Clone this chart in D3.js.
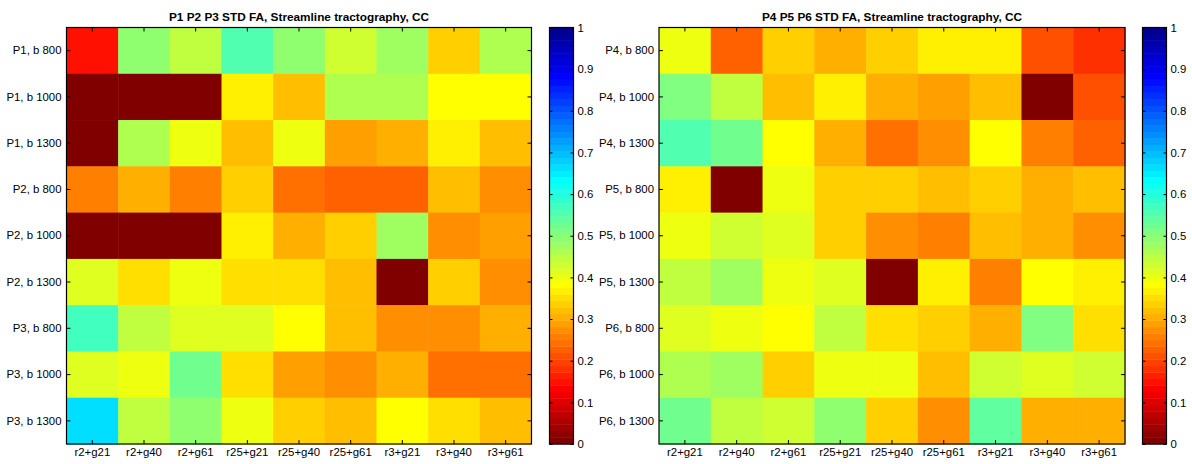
<!DOCTYPE html>
<html><head><meta charset="utf-8">
<script src="https://cdn.jsdelivr.net/npm/d3@7"></script>
<style>
body{margin:0;background:#fff;}
svg text{font-family:"Liberation Sans",Arial,Helvetica,sans-serif;}
</style></head><body>
<svg id="c" width="1192" height="464"></svg>
<script>
const xLabels = ["r2+g21","r2+g40","r2+g61","r25+g21","r25+g40","r25+g61","r3+g21","r3+g40","r3+g61"];
const leftRows = ["P1, b 800","P1, b 1000","P1, b 1300","P2, b 800","P2, b 1000","P2, b 1300","P3, b 800","P3, b 1000","P3, b 1300"];
const rightRows = ["P4, b 800","P4, b 1000","P4, b 1300","P5, b 800","P5, b 1000","P5, b 1300","P6, b 800","P6, b 1000","P6, b 1300"];
const leftValues = [
  [0.145,0.49,0.44,0.55,0.49,0.43,0.48,0.335,0.46],
  [0,0,0,0.367,0.318,0.455,0.455,0.38,0.38],
  [0,0.46,0.395,0.325,0.40,0.29,0.305,0.365,0.325],
  [0.26,0.30,0.255,0.335,0.245,0.22,0.22,0.325,0.27],
  [0,0,0,0.36,0.31,0.335,0.48,0.27,0.285],
  [0.42,0.35,0.395,0.355,0.355,0.325,0,0.34,0.27],
  [0.575,0.44,0.415,0.415,0.38,0.32,0.27,0.27,0.30],
  [0.41,0.395,0.525,0.345,0.285,0.275,0.305,0.235,0.245],
  [0.66,0.44,0.49,0.395,0.335,0.32,0.38,0.35,0.32]
];
const rightValues = [
  [0.395,0.22,0.34,0.31,0.33,0.367,0.367,0.215,0.185],
  [0.51,0.44,0.325,0.36,0.31,0.29,0.325,0,0.205],
  [0.55,0.525,0.38,0.305,0.24,0.27,0.38,0.255,0.23],
  [0.36,0,0.395,0.34,0.34,0.325,0.34,0.31,0.325],
  [0.395,0.43,0.41,0.335,0.28,0.26,0.325,0.30,0.28],
  [0.44,0.48,0.395,0.41,0,0.36,0.26,0.38,0.36],
  [0.41,0.395,0.38,0.44,0.35,0.335,0.305,0.51,0.35],
  [0.465,0.48,0.33,0.395,0.395,0.315,0.43,0.41,0.425],
  [0.53,0.44,0.425,0.485,0.335,0.27,0.535,0.30,0.31]
];
const titles = ["P1 P2 P3 STD FA, Streamline tractography, CC","P4 P5 P6 STD FA, Streamline tractography, CC"];
const cbTicks = [0,0.1,0.2,0.3,0.4,0.5,0.6,0.7,0.8,0.9,1];

// MATLAB jet(64), flipped
function jet(m){
  const n = Math.ceil(m/4);
  const u = [];
  for(let i=1;i<=n;i++) u.push(i/n);
  for(let i=0;i<n-1;i++) u.push(1);
  for(let i=n;i>=1;i--) u.push(i/n);
  const off = Math.ceil(n/2) - (m%4===1?1:0);
  const J = Array.from({length:m},()=>[0,0,0]);
  u.forEach((val,k)=>{
    const g = off + k + 1, r = g + n, b = g - n;
    if(g>=1&&g<=m) J[g-1][1]=val;
    if(r>=1&&r<=m) J[r-1][0]=val;
    if(b>=1&&b<=m) J[b-1][2]=val;
  });
  return J.map(c=>d3.rgb(c[0]*255,c[1]*255,c[2]*255).toString());
}
const cmap = jet(64).reverse();
const color = v => cmap[Math.max(0,Math.min(63,Math.floor(v*64)))];

const svg = d3.select("#c");
const FS = 11.4;
const panels = [
  {x0:66.5,x1:531.5,cb0:549.5,rows:leftRows,vals:leftValues,title:titles[0]},
  {x0:659,x1:1125,cb0:1142.5,rows:rightRows,vals:rightValues,title:titles[1]}
];
const y0 = 27.5, y1 = 444;

panels.forEach(p=>{
  const g = svg.append("g");
  const x = d3.scaleBand().domain(xLabels).range([p.x0,p.x1]).padding(0);
  const y = d3.scaleBand().domain(p.rows).range([y0,y1]).padding(0);
  const cells = [];
  p.vals.forEach((row,i)=>row.forEach((v,j)=>cells.push({r:p.rows[i],c:xLabels[j],v})));
  g.selectAll("rect.cell").data(cells).enter().append("rect")
    .attr("x",d=>x(d.c)).attr("y",d=>y(d.r))
    .attr("width",x.bandwidth()+0.5).attr("height",y.bandwidth()+0.5)
    .attr("fill",d=>color(d.v));
  const style = sel=>{
    sel.select(".domain").remove();
    sel.selectAll(".tick line").attr("stroke","#000");
    sel.selectAll(".tick text").attr("fill","#000").style("font-size",FS+"px");
  };
  g.append("g").attr("transform",`translate(0,${y1})`)
    .call(d3.axisBottom(x).tickSize(-4).tickPadding(4)).call(style);
  g.append("g").attr("transform",`translate(0,${y0})`)
    .call(d3.axisTop(x).tickSize(-4).tickFormat("")).call(style);
  g.append("g").attr("transform",`translate(${p.x0},0)`)
    .call(d3.axisLeft(y).tickSize(-4).tickPadding(5)).call(style);
  g.append("g").attr("transform",`translate(${p.x1},0)`)
    .call(d3.axisRight(y).tickSize(-4).tickFormat("")).call(style);
  g.append("rect").attr("x",p.x0).attr("y",y0).attr("width",p.x1-p.x0).attr("height",y1-y0)
    .attr("fill","none").attr("stroke","#000").attr("stroke-width",1.2);
  g.append("text").attr("x",(p.x0+p.x1)/2).attr("y",21).attr("text-anchor","middle")
    .style("font-size","11.8px").style("font-weight","bold").text(p.title);

  // colorbar
  const cw = 24;
  const cy = d3.scaleLinear().domain([0,1]).range([y1,y0]);
  g.selectAll("rect.cb").data(d3.range(64)).enter().append("rect")
    .attr("x",p.cb0).attr("width",cw)
    .attr("y",i=>cy((i+1)/64)).attr("height",i=>cy(i/64)-cy((i+1)/64)+0.4)
    .attr("fill",i=>cmap[i]);
  g.append("g").attr("transform",`translate(${p.cb0+cw},0)`)
    .call(d3.axisRight(cy).tickValues(cbTicks).tickFormat(d3.format("~g")).tickSize(-3).tickPadding(4)).call(style);
  g.append("g").attr("transform",`translate(${p.cb0},0)`)
    .call(d3.axisLeft(cy).tickValues(cbTicks).tickSize(-3).tickFormat("")).call(style);
  g.append("rect").attr("x",p.cb0).attr("y",y0).attr("width",cw).attr("height",y1-y0)
    .attr("fill","none").attr("stroke","#000").attr("stroke-width",1.2);
});
</script></body></html>
